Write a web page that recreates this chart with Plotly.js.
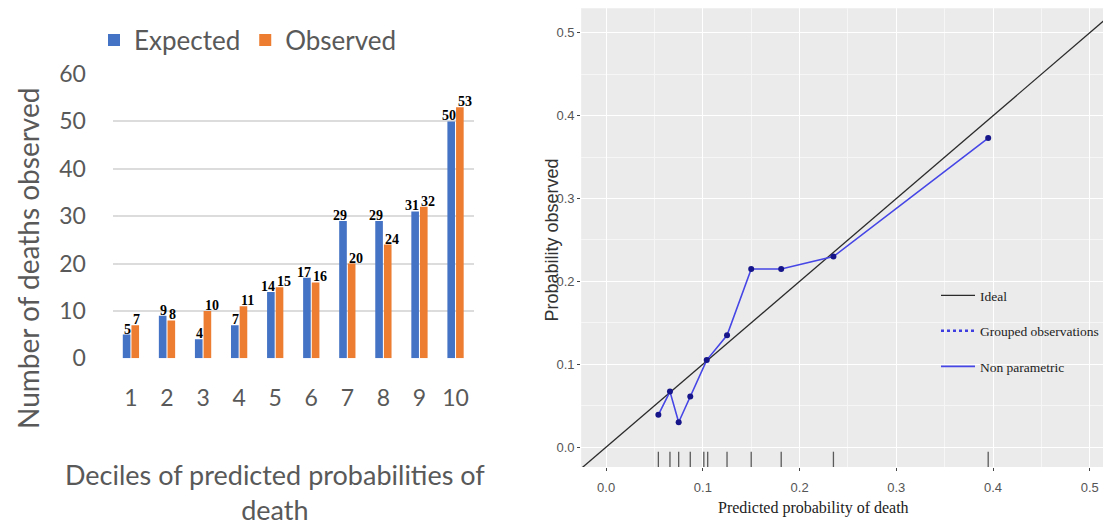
<!DOCTYPE html>
<html>
<head>
<meta charset="utf-8">
<script src="https://cdn.plot.ly/plotly-3.0.1.min.js"></script>
<style>html,body{margin:0;padding:0;background:#fff;}#chart{width:1104px;height:529px;}</style>
</head>
<body>
<div id="chart"></div>
<script>
// ---- Left chart data: deciles of predicted probability of death ----
const deciles = ['1','2','3','4','5','6','7','8','9','10'];
const expectedDeaths = [5, 9, 4, 7, 14, 17, 29, 29, 31, 50];
const observedDeaths = [7, 8, 10, 11, 15, 16, 20, 24, 32, 53];

// ---- Right chart data: calibration plot ----
const predictedProb = [0.054, 0.066, 0.075, 0.087, 0.104, 0.125, 0.150, 0.181, 0.235, 0.395];
const observedProb  = [0.039, 0.067, 0.030, 0.061, 0.105, 0.135, 0.215, 0.215, 0.230, 0.373];
const rugProb = [0.054, 0.066, 0.075, 0.087, 0.101, 0.105, 0.125, 0.150, 0.181, 0.235, 0.395];
const idealLine = [-0.1, 0.6];

const W = 1104, H = 529;
const px = v => v / W;
const py = v => 1 - v / H;

const officeFont = 'Lato, "Open Sans", sans-serif';
const grey = '#595959';
const labelFont = {family: '"Liberation Serif", serif', size: 14, color: '#000', weight: 'bold'};

const traces = [
  {
    type: 'bar', name: 'Expected', x: deciles, y: expectedDeaths,
    xaxis: 'x', yaxis: 'y', marker: {color: '#4472C4'}, legend: 'legend', hoverinfo: 'x+y'
  },
  {
    type: 'bar', name: 'Observed', x: deciles, y: observedDeaths,
    xaxis: 'x', yaxis: 'y', marker: {color: '#ED7D31'}, legend: 'legend', hoverinfo: 'x+y'
  },
  {
    type: 'scatter', mode: 'markers', name: 'rug', x: rugProb,
    y: rugProb.map(() => -0.0165), xaxis: 'x2', yaxis: 'y2', showlegend: false,
    marker: {symbol: 'line-ns', size: 13, line: {color: '#5a5a5a', width: 1.3}}, hoverinfo: 'x'
  },
  {
    type: 'scatter', mode: 'lines', name: 'Ideal', x: idealLine, y: idealLine,
    xaxis: 'x2', yaxis: 'y2', line: {color: '#2b2b2b', width: 1.3}, legend: 'legend2'
  },
  {
    type: 'scatter', mode: 'lines', name: 'Grouped observations', x: [null], y: [null],
    xaxis: 'x2', yaxis: 'y2', line: {color: '#3d3de0', width: 2.5, dash: 'dot'}, legend: 'legend2'
  },
  {
    type: 'scatter', mode: 'lines', name: 'Non parametric', x: predictedProb, y: observedProb,
    xaxis: 'x2', yaxis: 'y2', line: {color: '#4646e6', width: 1.6}, legend: 'legend2'
  },
  {
    type: 'scatter', mode: 'markers', name: 'Grouped points', x: predictedProb, y: observedProb,
    xaxis: 'x2', yaxis: 'y2', showlegend: false,
    marker: {color: '#16168a', size: 6}
  }
];

// value labels: Expected label ends at the group centre, Observed label starts there
// (x given as the category index on the category axis)
const valueLabels = [];
deciles.forEach((d, i) => {
  valueLabels.push({text: String(expectedDeaths[i]), xref: 'x', yref: 'y', x: i, y: expectedDeaths[i],
    xanchor: 'right', yanchor: 'bottom', showarrow: false, yshift: -3, xshift: 1, font: labelFont, borderpad: 0});
  valueLabels.push({text: String(observedDeaths[i]), xref: 'x', yref: 'y', x: i, y: observedDeaths[i],
    xanchor: 'left', yanchor: 'bottom', showarrow: false, yshift: -3, xshift: 1, font: labelFont, borderpad: 0});
});

const layout = {
  width: W, height: H,
  margin: {l: 0, r: 0, t: 0, b: 0},
  paper_bgcolor: '#ffffff', plot_bgcolor: 'rgba(0,0,0,0)',
  showlegend: true,
  barmode: 'group', bargap: 0.52, bargroupgap: 0.12,
  xaxis: {
    domain: [px(113), px(474)], anchor: 'y', type: 'category', range: [-0.5, 9.5],
    showgrid: false, zeroline: false, showline: false, ticks: '',
    tickfont: {family: officeFont, size: 23, color: grey}, ticklabelstandoff: 24
  },
  yaxis: {
    domain: [py(358.3), py(74)], anchor: 'x', range: [0, 60], dtick: 10,
    showgrid: true, gridcolor: '#dcdcdc', gridwidth: 1.6, zeroline: false, showline: false, ticks: '',
    tickfont: {family: officeFont, size: 23, color: grey}, ticklabelstandoff: 26
  },
  xaxis2: {
    domain: [px(581.7), 1], anchor: 'y2', range: [-0.0258, 0.5137],
    tickvals: [0, 0.1, 0.2, 0.3, 0.4, 0.5], ticktext: ['0.0','0.1','0.2','0.3','0.4','0.5'],
    showgrid: true, gridcolor: '#ffffff', gridwidth: 1.2, zeroline: false, showline: false,
    ticks: 'outside', ticklen: 3, tickcolor: '#444', tickwidth: 1,
    minor: {tickvals: [0.05, 0.15, 0.25, 0.35, 0.45], showgrid: true, gridcolor: '#f6f6f6', gridwidth: 0.6, ticks: ''},
    tickfont: {family: '"Liberation Sans Narrow", "Liberation Sans", sans-serif', size: 13, color: '#555'},
    ticklabelstandoff: 5
  },
  yaxis2: {
    domain: [py(467), py(8.3)], anchor: 'x2', range: [-0.024, 0.5296],
    tickvals: [0, 0.1, 0.2, 0.3, 0.4, 0.5], ticktext: ['0.0','0.1','0.2','0.3','0.4','0.5'],
    showgrid: true, gridcolor: '#ffffff', gridwidth: 1.2, zeroline: false, showline: false,
    ticks: 'outside', ticklen: 3, tickcolor: '#444', tickwidth: 1,
    minor: {tickvals: [0.05, 0.15, 0.25, 0.35, 0.45], showgrid: true, gridcolor: '#f6f6f6', gridwidth: 0.6, ticks: ''},
    tickfont: {family: '"Liberation Sans Narrow", "Liberation Sans", sans-serif', size: 13, color: '#555'}
  },
  shapes: [
    {type: 'rect', xref: 'x2 domain', yref: 'y2 domain', x0: 0, x1: 1, y0: 0, y1: 1,
     fillcolor: '#ebebeb', line: {width: 0}, layer: 'below'}
  ],
  legend: {
    orientation: 'h', x: px(94), y: py(40), xanchor: 'left', yanchor: 'middle',
    font: {family: officeFont, size: 26, color: grey}, bgcolor: 'rgba(0,0,0,0)',
    itemclick: false, itemwidth: 30, traceorder: 'normal'
  },
  legend2: {
    x: px(937), y: py(280), xanchor: 'left', yanchor: 'top',
    font: {family: '"Liberation Serif", serif', size: 13.5, color: '#222'},
    bgcolor: 'rgba(0,0,0,0)', tracegroupgap: 15, traceorder: 'grouped', itemwidth: 34
  },
  annotations: valueLabels.concat([
    {text: 'Number of deaths observed', xref: 'paper', yref: 'paper', x: px(28), y: py(258),
     showarrow: false, textangle: -90, xanchor: 'center', yanchor: 'middle',
     font: {family: officeFont, size: 28, color: grey}},
    {text: 'Deciles of predicted probabilities of<br>death', xref: 'paper', yref: 'paper',
     x: px(275), y: py(491.5), showarrow: false, xanchor: 'center', yanchor: 'middle',
     font: {family: officeFont, size: 27, color: grey}},
    {text: 'Probability observed', xref: 'paper', yref: 'paper', x: px(552), y: py(240),
     showarrow: false, textangle: -90, xanchor: 'center', yanchor: 'middle',
     font: {family: '"Liberation Sans", Arial, sans-serif', size: 18, color: '#333'}},
    {text: 'Predicted probability of death', xref: 'paper', yref: 'paper', x: px(814), y: py(508),
     showarrow: false, xanchor: 'center', yanchor: 'middle',
     font: {family: '"Liberation Serif", serif', size: 16, color: '#222'}}
  ])
};

// put each right-hand legend entry in its own group for spacing
traces.forEach((t, i) => { if (t.legend === 'legend2') t.legendgroup = 'g' + i; });

Plotly.newPlot('chart', traces, layout, {displayModeBar: false, responsive: false});
</script>
</body>
</html>
